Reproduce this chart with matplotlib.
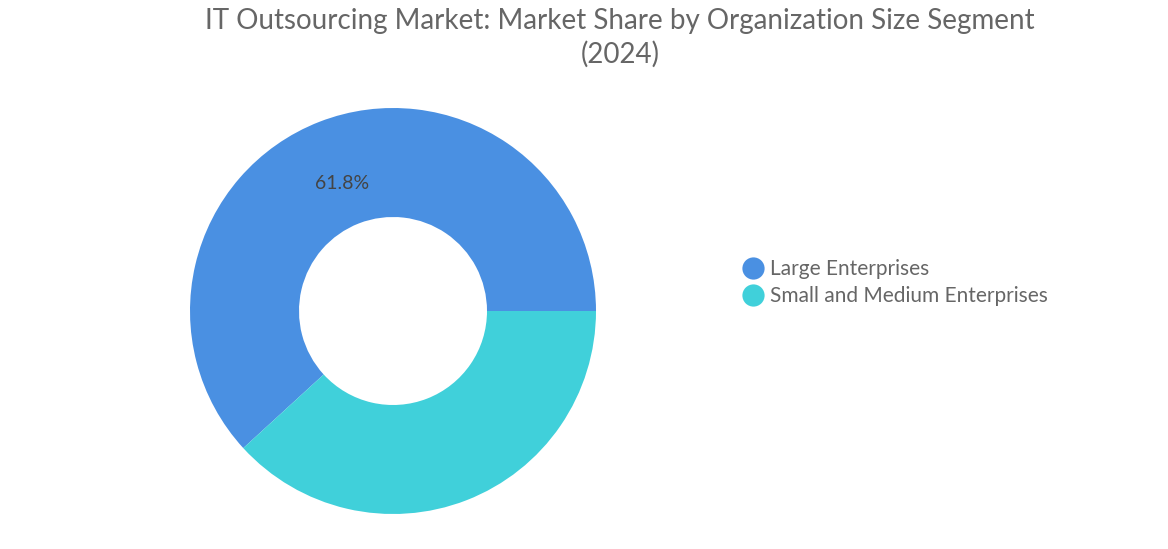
import matplotlib.pyplot as plt
from matplotlib.lines import Line2D

segments = ['Large Enterprises', 'Small and Medium Enterprises']
shares = [61.8, 38.2]
colors = ['#4a90e2', '#40d0da']

plt.rcParams['font.family'] = 'Lato'
fig = plt.figure(figsize=(11.68, 5.49), dpi=100)

ax = fig.add_axes([190 / 1168, 35 / 549, 406 / 1168, 406 / 549])
ax.pie(shares, colors=colors, startangle=0, counterclock=True,
       radius=1.0, wedgeprops=dict(width=1 - 94 / 203, edgecolor='none'))
ax.set_xlim(-1, 1)
ax.set_ylim(-1, 1)
ax.set_aspect('equal')
ax.text(-0.25, 0.63, f'{shares[0]}%', ha='center', va='center',
        fontsize=14, color='#444444')

fig.suptitle('IT Outsourcing Market: Market Share by Organization Size Segment\n(2024)',
             x=0.531, y=0.985, fontsize=20, color='#666666', va='top', linespacing=1.3)

handles = [Line2D([], [], marker='o', linestyle='none', markersize=16,
                  markerfacecolor=c, markeredgecolor='none') for c in colors]
fig.legend(handles, segments, loc='center left', bbox_to_anchor=(0.618, 0.485),
           frameon=False, fontsize=15, labelcolor='#666666', handletextpad=0.2,
           labelspacing=0.35, handlelength=1.2)

plt.savefig('out.png', dpi=100)
